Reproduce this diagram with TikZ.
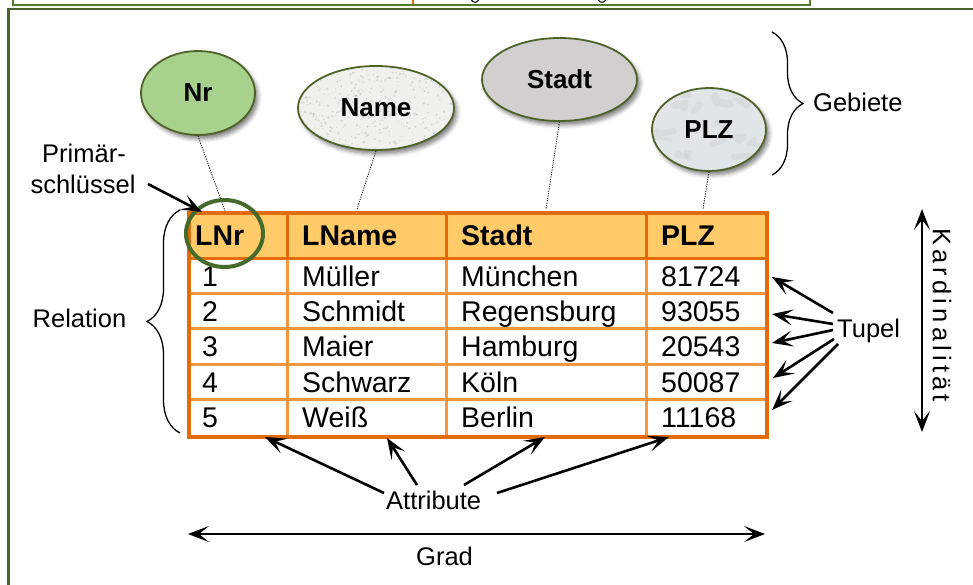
\documentclass[tikz,border=0pt]{standalone}
\usepackage{fontspec}
\setmainfont{Liberation Sans}
\usetikzlibrary{shapes.geometric, arrows.meta, decorations.pathreplacing, shadows.blur, calc}

\definecolor{frameA}{HTML}{507A2C}
\definecolor{frameB}{HTML}{4B632E}
\definecolor{rim}{HTML}{4F6228}
\definecolor{keyring}{HTML}{456A2B}
\definecolor{nrfill}{HTML}{A9D18E}
\definecolor{namefill}{HTML}{F0F0EE}
\definecolor{stadtfill}{HTML}{D1CFD0}
\definecolor{plzfill}{HTML}{E2E5E7}
\definecolor{tabdark}{HTML}{E36C09}
\definecolor{tablight}{HTML}{F7963C}
\definecolor{headfill}{HTML}{FFCB69}

% letter spacing for the vertical label
\newcommand\ksp{\kern4.2pt}

\begin{document}
\begin{tikzpicture}[x=1pt,y=-1pt,
  valset/.style={ellipse, draw=rim, line width=1.8pt, inner sep=0pt,
    font=\fontsize{26}{30}\selectfont\bfseries,
    blur shadow={shadow xshift=3pt, shadow yshift=-4pt, shadow blur radius=4pt, shadow opacity=50}},
  granite/.style={path picture={
    \pgfmathsetseed{7}
    \foreach \i in {1,...,420}
      \fill[gray, opacity=0.22]
        ($(path picture bounding box.north west)!rnd!(path picture bounding box.north east)
          + (0, 84*rnd)$) circle [radius=0.5+0.9*rnd];
  }},
  marble/.style={path picture={
    \pgfmathsetseed{11}
    \foreach \i in {1,...,18}
      \draw[gray, opacity=0.09, line width=3+5*rnd, line cap=round]
        ($(path picture bounding box.north west)!rnd!(path picture bounding box.north east)
          + (0, 83*rnd)$) -- ++(30*rnd-15, 14*rnd-7) -- ++(25*rnd-12, 14*rnd-7);
  }},
  lbl/.style={font=\fontsize{25.5}{30}\selectfont, inner sep=0pt},
  cell/.style={font=\fontsize{28.5}{32}\selectfont, inner sep=0pt, anchor=base west},
  headcell/.style={cell, font=\fontsize{28.5}{32}\selectfont\bfseries},
  tipshape/.tip={Stealth[length=21pt,width=16pt,inset=10pt]},
  pointer/.style={line width=2.6pt, -tipshape},
  twoway/.style={line width=2.6pt, tipshape-tipshape},
  link/.style={line width=0.8pt, dash pattern=on 1.2pt off 1.2pt},
  bracket/.style={line width=1.3pt, decorate, decoration={brace, amplitude=#1}}
]
\useasboundingbox (0,0) rectangle (973,584);
\clip (0,0) rectangle (973,584);

% frames
\draw[frameA, line width=2.5pt] (13,-5) -- (13,5) -- (810,5) -- (810,-5);
\draw[tabdark, line width=2pt] (413,-3) -- (413,4);
\draw[line width=1pt] (471.5,0) .. controls (472.5,3) and (477.5,3) .. (478.5,0);
\draw[line width=1pt] (598.5,0) .. controls (599.5,3) and (604.5,3) .. (605.5,0);
\draw[frameB, line width=2.5pt] (8.5,600) -- (8.5,9) -- (990,9);

% value sets
\node[valset, fill=nrfill, minimum width=114pt, minimum height=84pt] (nr) at (198,93) {Nr};
\node[valset, granite, fill=namefill, minimum width=156pt, minimum height=84pt] (name) at (376,108) {Name};
\node[valset, fill=stadtfill, minimum width=155pt, minimum height=83pt] (stadt) at (559.5,79.5) {Stadt};
\node[valset, marble, fill=plzfill, minimum width=114pt, minimum height=83pt] (plz) at (709,129.5) {PLZ};

% attachment points on the table top
\coordinate (lnA) at (225,211);
\coordinate (lnB) at (357,209);
\coordinate (lnC) at (546,209);
\coordinate (lnD) at (703,209);
\draw[link] (nr.south) -- (lnA);
\draw[link] (name.south) -- (lnB);
\draw[link] (stadt.south) -- (lnC);
\draw[link] (plz.south) -- (lnD);

% table
\fill[white] (187,211) rectangle (765,435);
\fill[headfill] (187,211) rectangle (765,258);
\foreach \y in {293.4,328.8,364.2,399.6}
  \draw[tablight, line width=3pt] (187,\y) -- (765,\y);
\foreach \x in {287,446,646} {
  \draw[tablight, line width=3pt] (\x,258) -- (\x,435);
  \draw[tabdark, line width=3pt] (\x,211) -- (\x,258);
}
\draw[tabdark, line width=3pt] (187,258) -- (765,258);
\node[draw=tabdark, line width=4pt, minimum width=578pt, minimum height=224pt,
      anchor=north west, inner sep=0pt] (tbl) at (187,211) {};

\node[headcell] (h1) at (195,245) {LNr};
\node[headcell] (h2) at (302,245) {LName};
\node[headcell] (h3) at (461,245) {Stadt};
\node[headcell] (h4) at (661,245) {PLZ};
\foreach \n/\a/\b/\c/\d/\yb in {1/1/Müller/München/81724/286,
    2/2/Schmidt/Regensburg/93055/321,
    3/3/Maier/Hamburg/20543/356.5,
    4/4/Schwarz/Köln/50087/392,
    5/5/Weiß/Berlin/11168/427} {
  \node[cell] (r\n-1) at (202,\yb) {\a};
  \node[cell] (r\n-2) at (302,\yb) {\b};
  \node[cell] (r\n-3) at (461,\yb) {\c};
  \node[cell] (r\n-4) at (661,\yb) {\d};
}

% primary key marker
\node[ellipse, draw=keyring, line width=4pt, minimum width=77pt, minimum height=67pt, inner sep=0pt] (pk) at (224.5,233.5) {};
\node[lbl, anchor=base] (prim1) at (84,162) {Primär-};
\node[lbl, anchor=base] (prim2) at (83,193) {schlüssel};
\coordinate (pkTail) at (148,184);
\coordinate (pkTip) at (202,212);
\draw[pointer] (pkTail) -- (pkTip);

% braces
\draw[bracket=31pt] (772,32) -- (772,175);
\node[lbl, anchor=base west] (geb) at (813,111) {Gebiete};
\draw[bracket=33pt] (180,433) -- (180,210);
\node[lbl, anchor=base] (rel) at (79.5,327) {Relation};

% tuples
\node[lbl, anchor=base west] (tup) at (837,337) {Tupel};
\foreach \i/\sx/\sy/\tx/\ty in {1/833/313/772/277, 2/833/324/772/314, 3/833/330/772/343,
    4/834/339/773/378, 5/838/344/772/410} {
  \coordinate (tupS\i) at (\sx,\sy);
  \coordinate (tupT\i) at (\tx,\ty);
  \draw[pointer] (tupS\i) -- (tupT\i);
}

% attributes
\node[lbl, anchor=base west] (attr) at (386,509) {Attribute};
\foreach \i/\sx/\sy/\tx/\ty in {1/384/493/265/437, 2/417/485/387/438,
    3/464/485/545/437, 4/497/493/669/437} {
  \coordinate (atS\i) at (\sx,\sy);
  \coordinate (atT\i) at (\tx,\ty);
  \draw[pointer] (atS\i) -- (atT\i);
}

% degree
\coordinate (gradL) at (188,534);
\coordinate (gradR) at (765,534);
\draw[twoway] (gradL) -- (gradR);
\node[lbl, anchor=base west] (grad) at (416,565) {Grad};

% cardinality
\coordinate (kardT) at (922,209);
\coordinate (kardB) at (922,432);
\draw[twoway] (kardT) -- (kardB);
\node[lbl, rotate=-90] (kard) at (942,315) {K\ksp a\ksp r\ksp d\ksp i\ksp n\ksp a\ksp l\ksp i\ksp t\ksp ä\ksp t};
\end{tikzpicture}
\end{document}
